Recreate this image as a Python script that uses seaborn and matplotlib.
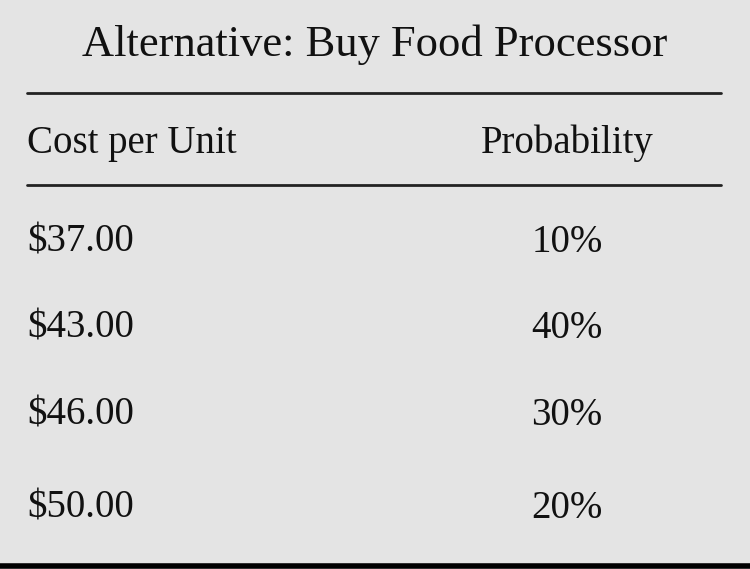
import matplotlib
matplotlib.use("Agg")
import matplotlib.pyplot as plt
import seaborn as sns

title = "Alternative: Buy Food Processor"
headers = ["Cost per Unit", "Probability"]
costs = ["$37.00", "$43.00", "$46.00", "$50.00"]
probs = ["10%", "40%", "30%", "20%"]

sns.set_theme(style="white")
plt.rcParams['font.family'] = ['Liberation Serif', 'DejaVu Serif']

fig = plt.figure(figsize=(7.5, 5.69), dpi=100)
fig.patch.set_facecolor("#e4e4e4")
ax = fig.add_axes([0, 0, 1, 1])
ax.set_facecolor("#e4e4e4")
ax.set_xlim(0, 750)
ax.set_ylim(569, 0)
ax.axis("off")

fs = 28
ax.text(375, 45, title, ha="center", va="center", fontsize=32, color="#111")
ax.plot([27, 721], [93, 93], color="#222", lw=2)
ax.text(27, 143, headers[0], ha="left", va="center", fontsize=fs, color="#111")
ax.text(567, 143, headers[1], ha="center", va="center", fontsize=fs, color="#111")
ax.plot([27, 721], [185, 185], color="#222", lw=2)

row_y = [242, 328, 415, 508]
for y, c, p in zip(row_y, costs, probs):
    ax.text(27, y, c, ha="left", va="center", fontsize=fs, color="#111")
    ax.text(567, y, p, ha="center", va="center", fontsize=fs, color="#111")

ax.plot([0, 750], [566, 566], color="#000", lw=4)

fig.savefig("out.png", dpi=100, facecolor=fig.get_facecolor())
